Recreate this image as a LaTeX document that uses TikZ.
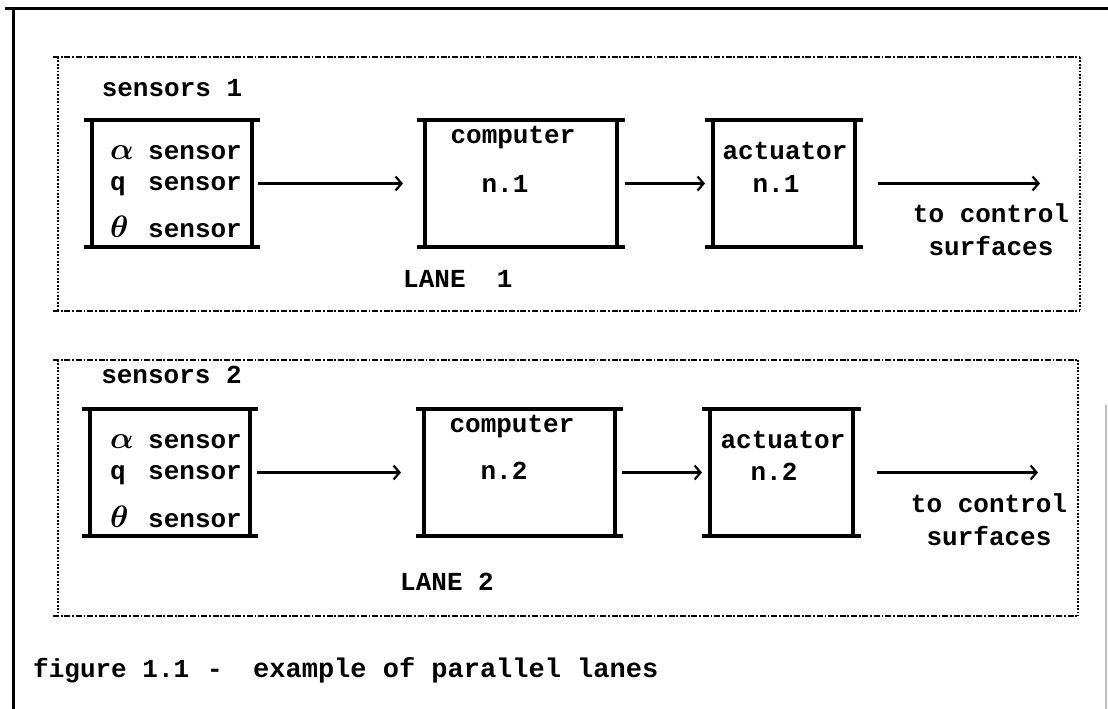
\RequirePackage{fix-cm}
\documentclass[tikz,border=0pt]{standalone}
\usepackage{fontspec}
\setmainfont{Liberation Mono}
\usetikzlibrary{arrows.meta}

\tikzset{
  barline/.style={line width=3.2pt},
  lanerow/.style={line width=2.6pt, dash pattern=on 6pt off 1.8pt on 1.8pt off 1.8pt},
  laneside/.style={line width=2.6pt, dash pattern=on 1.8pt off 1.6pt},
  sig/.style={line width=2.4pt, -{Straight Barb[length=6pt,width=14pt,line width=2.2pt]}},
  lbl/.style={inner sep=0pt, font=\fontsize{26}{30}\selectfont\bfseries\boldmath,
    text height=11pt, text depth=0pt},
  ibox/.style={minimum height=127pt, inner sep=0pt, outer sep=0pt,
    append after command={
      ([xshift=-8pt]\tikzlastnode.north west) edge[barline] ([xshift=8pt]\tikzlastnode.north east)
      ([xshift=-8pt]\tikzlastnode.south west) edge[barline] ([xshift=8pt]\tikzlastnode.south east)
      (\tikzlastnode.north west) edge[barline] (\tikzlastnode.south west)
      (\tikzlastnode.north east) edge[barline] (\tikzlastnode.south east)}},
}
\newcommand{\grk}[1]{\makebox[38pt][l]{\fontsize{31}{34}\selectfont$#1$}}

\begin{document}
\begin{tikzpicture}[x=1pt,y=-1pt]
\useasboundingbox (0,0) rectangle (1108,709);

% ---------- frame ----------
\draw[line width=3pt] (5,9) -- (1108,9);
\draw[line width=3pt] (13,9) -- (13,709);
\draw[gray!50, line width=1.5pt] (1106,405) -- (1106,709);

% ---------- Lane 1 ----------
\draw[lanerow] (53,57) -- (1080,57);
\draw[lanerow] (53,311) -- (1080,311);
\draw[laneside] (58,57) -- (58,311);
\draw[laneside] (1080,57) -- (1080,311);

\node[lbl] (lab1) at (172,91) {sensors 1};
\node[ibox, minimum width=160pt] (sen1) at (172,183.5) {};
\node[lbl, anchor=west] (a1) at (110,154) {\grk{\alpha}sensor};
\node[lbl, anchor=west] (q1) at (110,185) {\makebox[38pt][l]{q}sensor};
\node[lbl, anchor=west] (t1) at (110,232) {\grk{\theta}sensor};

\node[ibox, minimum width=192pt] (com1) at (521,183.5) {};
\node[lbl] (ct1) at (513,138) {computer};
\node[lbl] (cn1) at (505,187) {n.1};

\node[ibox, minimum width=142pt] (act1) at (784,183.5) {};
\node[lbl] (at1) at (785,154) {actuator};
\node[lbl] (an1) at (776,187) {n.1};

\coordinate (out1) at (1040,183.5);
\node[lbl] (to1) at (991,217) {to control};
\node[lbl] (sf1) at (991,250) {surfaces};
\node[lbl, anchor=west] (ln1) at (403,282) {LANE~~1};

\draw[sig, shorten <=6pt, shorten >=22pt] (sen1.east) -- (com1.west);
\draw[sig, shorten <=8pt, shorten >=8pt] (com1.east) -- (act1.west);
\draw[sig, shorten <=23pt] (act1.east) -- (out1);

% ---------- Lane 2 ----------
\draw[lanerow] (53,360) -- (1078,360);
\draw[lanerow] (53,616) -- (1078,616);
\draw[laneside] (58,360) -- (58,616);
\draw[laneside] (1078,360) -- (1078,616);

\node[lbl] (lab2) at (171.5,378) {sensors 2};
\node[ibox, minimum width=160pt] (sen2) at (170,472.5) {};
\node[lbl, anchor=west] (a2) at (110,443) {\grk{\alpha}sensor};
\node[lbl, anchor=west] (q2) at (110,474) {\makebox[38pt][l]{q}sensor};
\node[lbl, anchor=west] (t2) at (110,522) {\grk{\theta}sensor};

\node[ibox, minimum width=191pt] (com2) at (519.5,472.5) {};
\node[lbl] (ct2) at (512,427) {computer};
\node[lbl] (cn2) at (504,474) {n.2};

\node[ibox, minimum width=143pt] (act2) at (781.5,472.5) {};
\node[lbl] (at2) at (783,443) {actuator};
\node[lbl] (an2) at (774,475) {n.2};

\coordinate (out2) at (1038,472.5);
\node[lbl] (to2) at (989,507) {to control};
\node[lbl] (sf2) at (989,540) {surfaces};
\node[lbl, anchor=west] (ln2) at (400,585) {LANE 2};

\draw[sig, shorten <=7pt, shorten >=23pt] (sen2.east) -- (com2.west);
\draw[sig, shorten <=7pt, shorten >=8pt] (com2.east) -- (act2.west);
\draw[sig, shorten <=24pt] (act2.east) -- (out2);

% ---------- caption ----------
\node[lbl, anchor=west] (fig) at (33,672) {figure 1.1};
\node[lbl] (dash) at (215,672) {-};
\node[lbl, anchor=west, font=\fontsize{27}{30}\selectfont\bfseries] (cap) at (253,672) {example of parallel lanes};

\end{tikzpicture}
\end{document}
